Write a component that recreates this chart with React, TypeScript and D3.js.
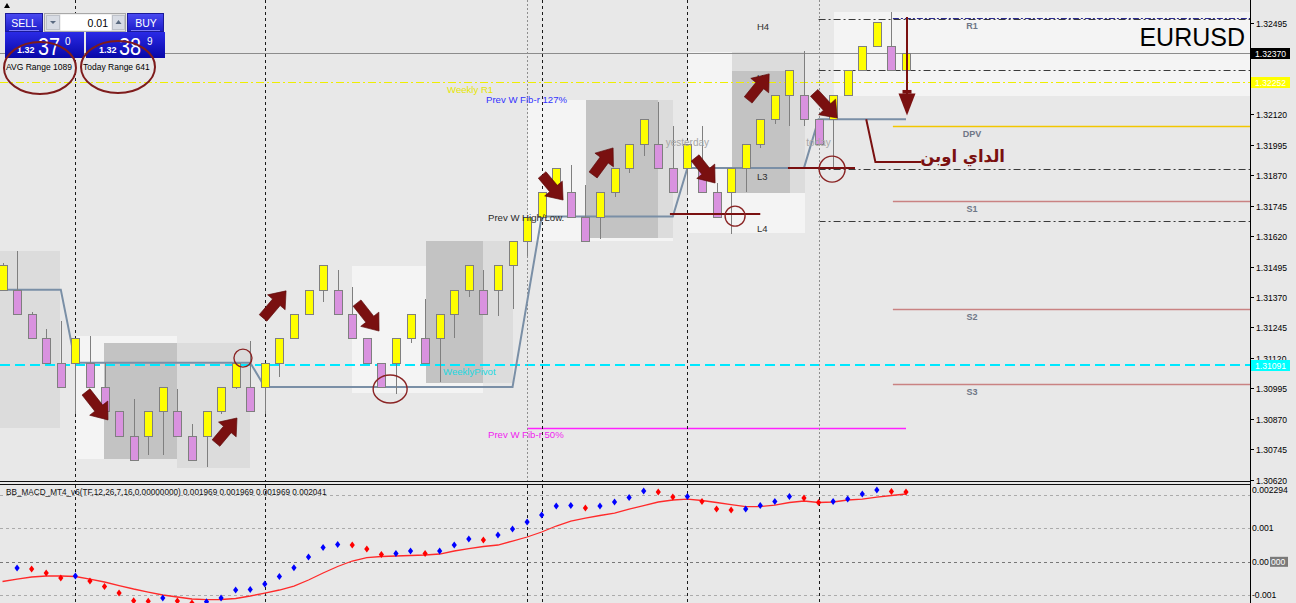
import React from "react";
import * as d3 from "d3";

// ---------------- DATA ----------------
const opens = [
  1.3140, 1.3140, 1.3130, 1.3120, 1.3110, 1.3110, 1.3110, 1.3100, 1.3090, 1.3080,
  1.3080, 1.3090, 1.3090, 1.3080, 1.3080, 1.3090, 1.3100, 1.3100, 1.3100, 1.3110,
  1.3120, 1.3130, 1.3140, 1.3140, 1.3130, 1.3120, 1.3110, 1.3110, 1.3120, 1.3120,
  1.3120, 1.3130, 1.3140, 1.3140, 1.3140, 1.3150, 1.3160, 1.3170, 1.3180, 1.3180,
  1.3170, 1.3170, 1.3180, 1.3190, 1.3200, 1.3200, 1.3190, 1.3190, 1.3190, 1.3180,
  1.3180, 1.3190, 1.3200, 1.3210, 1.3220, 1.3220, 1.3210, 1.3210, 1.3220, 1.3230,
  1.3240, 1.3240, 1.3230,
];
const highs = [
  1.3151, 1.3156, 1.3131, 1.3124, 1.3127, 1.3120, 1.3121, 1.3110, 1.3090, 1.3095,
  1.3090, 1.3100, 1.3099, 1.3085, 1.3090, 1.3100, 1.3110, 1.3119, 1.3110, 1.3120,
  1.3130, 1.3140, 1.3150, 1.3148, 1.3141, 1.3120, 1.3110, 1.3120, 1.3130, 1.3136,
  1.3130, 1.3140, 1.3150, 1.3148, 1.3150, 1.3160, 1.3170, 1.3180, 1.3190, 1.3191,
  1.3183, 1.3180, 1.3190, 1.3200, 1.3210, 1.3217, 1.3207, 1.3200, 1.3207, 1.3184,
  1.3190, 1.3200, 1.3210, 1.3220, 1.3230, 1.3238, 1.3210, 1.3220, 1.3230, 1.3240,
  1.3250, 1.3254, 1.3237,
];
const lows = [
  1.3140, 1.3130, 1.3120, 1.3110, 1.3100, 1.3089, 1.3100, 1.3090, 1.3080, 1.3070,
  1.3072, 1.3072, 1.3080, 1.3070, 1.3067, 1.3089, 1.3099, 1.3090, 1.3089, 1.3104,
  1.3120, 1.3130, 1.3135, 1.3130, 1.3120, 1.3110, 1.3100, 1.3097, 1.3118, 1.3110,
  1.3102, 1.3120, 1.3137, 1.3130, 1.3129, 1.3132, 1.3154, 1.3170, 1.3180, 1.3170,
  1.3160, 1.3161, 1.3178, 1.3188, 1.3195, 1.3190, 1.3180, 1.3179, 1.3180, 1.3170,
  1.3163, 1.3180, 1.3198, 1.3208, 1.3207, 1.3207, 1.3200, 1.3190, 1.3220, 1.3230,
  1.3240, 1.3230, 1.3230,
];
const closes = [
  1.3150, 1.3130, 1.3120, 1.3110, 1.3100, 1.3120, 1.3100, 1.3090, 1.3080, 1.3070,
  1.3090, 1.3100, 1.3080, 1.3070, 1.3090, 1.3100, 1.3110, 1.3090, 1.3110, 1.3120,
  1.3130, 1.3140, 1.3150, 1.3130, 1.3120, 1.3110, 1.3100, 1.3120, 1.3130, 1.3110,
  1.3130, 1.3140, 1.3150, 1.3130, 1.3150, 1.3160, 1.3170, 1.3180, 1.3190, 1.3170,
  1.3160, 1.3180, 1.3190, 1.3200, 1.3210, 1.3190, 1.3180, 1.3200, 1.3180, 1.3170,
  1.3190, 1.3200, 1.3210, 1.3220, 1.3230, 1.3210, 1.3200, 1.3220, 1.3230, 1.3240,
  1.3250, 1.3230, 1.3237,
];

// BB MACD (units of 0.001)
const macdDots: (number | null)[] = [
  null, -0.185, -0.215, -0.334, -0.484, -0.424, -0.573, -0.738, -0.932, -1.165,
  -1.175, -1.081, -1.171, -1.230, -1.192, -1.081, -0.842, -0.830, -0.663, -0.439,
  -0.176, 0.143, 0.427, 0.517, 0.502, 0.382, 0.215, 0.245, 0.323, 0.245,
  0.323, 0.502, 0.681, 0.651, 0.800, 0.980, 1.189, 1.398, 1.667, 1.681,
  1.607, 1.666, 1.786, 1.920, 2.114, 2.084, 1.935, 1.950, 1.801, 1.575,
  1.545, 1.575, 1.681, 1.801, 1.950, 1.905, 1.771, 1.801, 1.875, 2.025,
  2.144, 2.099, 2.084,
];
const macdSignal = [
  -0.588, -0.514, -0.454, -0.424, -0.424, -0.439, -0.514, -0.603, -0.708, -0.812,
  -0.902, -0.991, -1.051, -1.111, -1.129, -1.126, -1.096, -1.021, -0.932, -0.842,
  -0.723, -0.544, -0.334, -0.140, 0.024, 0.125, 0.158, 0.173, 0.188, 0.203,
  0.233, 0.323, 0.394, 0.457, 0.502, 0.621, 0.741, 0.890, 1.069, 1.218,
  1.308, 1.383, 1.457, 1.577, 1.681, 1.786, 1.846, 1.875, 1.831, 1.771,
  1.711, 1.651, 1.651, 1.696, 1.771, 1.816, 1.771, 1.786, 1.846, 1.875,
  1.935, 1.980, 2.025,
];

const priceTicks = d3.range(16).map((k) => 1.3062 + k * 0.00125);
const macdGrid = [2, 1, 0, -1];
const macdTickLabels = [
  { v: 1, label: "0.001" },
  { v: -1, label: "-0.001" },
];
const macdTopLabel = "0.002294";
const macdTitle =
  "BB_MACD_MT4_v6(TF,12,26,7,16,0.00000000) 0.001969 0.001969 0.001969 0.002041";

// daily open step line [bar index, price]
const dayOpenSteps: [number, number][] = [
  [-0.2, 1.314], [4, 1.314], [5, 1.311], [17, 1.311], [18, 1.31], [35, 1.31],
  [37, 1.317], [46, 1.317], [47, 1.319], [55, 1.319], [56, 1.321], [62, 1.321],
];

// session range boxes [startIndex, endIndex, high, low, shade]
const rangeBoxes: [number, number, number, number, string][] = [
  [-0.3, 3.95, 1.31559, 1.30832, "mid"],
  [5.05, 11.98, 1.3121, 1.30705, "light"],
  [6.97, 11.98, 1.31181, 1.30705, "dark"],
  [11.98, 16.99, 1.31181, 1.30668, "mid"],
  [23.99, 32.98, 1.31497, 1.30976, "light"],
  [29.07, 35.04, 1.316, 1.31017, "mid"],
  [29.07, 32.98, 1.316, 1.31017, "dark"],
  [36.07, 46.02, 1.32179, 1.316, "light"],
  [40.05, 44.99, 1.32179, 1.31612, "dark"],
  [44.99, 46.02, 1.32179, 1.31612, "mid"],
  [47.05, 55.08, 1.32376, 1.31633, "light"],
  [50.07, 55.08, 1.32376, 1.31797, "mid"],
  [50.07, 54.05, 1.32298, 1.31797, "dark"],
  [57.07, 90, 1.3254, 1.32195, "light"],
];

const separators: [number, boolean][] = [
  [5, false], [18, false], [36, true], [37, false], [47, false], [56, true],
];

const currentPrice = 1.3237;
const weeklyR1 = 1.32252;
const weeklyPivot = 1.31091;
const prevWFib50 = 1.30832;

const pivotLevels = [
  { name: "R1", price: 1.32516 },
  { name: "DPV", price: 1.32072 },
  { name: "S1", price: 1.31764 },
  { name: "S2", price: 1.31321 },
  { name: "S3", price: 1.31013 },
];
const camLevels = [
  { name: "H4", price: 1.32511 },
  { name: "H3", price: 1.32302 },
  { name: "L3", price: 1.31896 },
  { name: "L4", price: 1.31682 },
];

// hand-drawn annotations (bar index / price)
const trendArrows: [number, number, number, number][] = [
  [5.73, 1.3098, 7.24, 1.30865],
  [14.65, 1.3077, 16.09, 1.30873],
  [17.88, 1.31284, 19.46, 1.31395],
  [24.33, 1.31345, 25.84, 1.3123],
  [37.03, 1.31871, 38.47, 1.31768],
  [40.53, 1.31871, 41.9, 1.31982],
  [47.53, 1.31941, 48.9, 1.31838],
  [51.17, 1.32179, 52.61, 1.32286],
  [55.7, 1.32208, 57.28, 1.32105],
];
const markCircles: [number, number, number, number][] = [
  [16.5, 1.31119, 9, 9],
  [26.6, 1.30992, 17, 14],
  [50.27, 1.31702, 10, 10],
  [56.93, 1.31895, 13, 13],
];
const markLines: [number, number, number][] = [
  [45.8, 52.0, 1.31711],
  [53.9, 58.5, 1.319],
];
const dayOpenNote = "الداي اوبن";

const FONT = "'Liberation Sans', Arial, Helvetica, sans-serif";
const SHADE: Record<string, string> = { light: "#F4F4F4", mid: "#DCDCDC", dark: "#C3C3C3" };

export default function App() {
  const AX = 1250;
  const x = d3.scaleLinear().domain([0, 62]).range([2.5, 906]);
  const y = d3.scaleLinear().domain([1.3062, 1.32495]).range([479.6, 23]);
  const ym = d3.scaleLinear().domain([-1.23, 2.294]).range([603, 485]);
  const cy = (p: number) => Math.round(y(p)) + 0.5;
  const cx = (i: number) => Math.round(x(i)) + 0.5;

  const stepLine = d3
    .line<[number, number]>()
    .x((d) => x(d[0]))
    .y((d) => y(d[1]))(dayOpenSteps);

  const signalLine = d3
    .line<number>()
    .x((_, i) => x(i))
    .y((d) => ym(d))(macdSignal);

  const arrowPath = (x1: number, y1: number, x2: number, y2: number) => {
    const L = Math.hypot(x2 - x1, y2 - y1);
    const a = (Math.atan2(y2 - y1, x2 - x1) * 180) / Math.PI;
    const hl = 15;
    const d = `M0,-5 L${L - hl},-5 L${L - hl},-11.5 L${L},0 L${L - hl},11.5 L${L - hl},5 L0,5 Z`;
    return { d, t: `translate(${x1},${y1}) rotate(${a})` };
  };

  const dark = "#7A1010";
  const boxes = [
    { v: currentPrice, bg: "#000000", fg: "#FFFFFF" },
    { v: weeklyR1, bg: "#FFFF00", fg: "#FFFFFF" },
    { v: weeklyPivot, bg: "#00FFFF", fg: "#FFFFFF" },
  ];
  // tick labels fully hidden behind a price box are not drawn
  const visibleTicks = priceTicks.filter(
    (v) => !boxes.some((b) => Math.abs(y(b.v) - y(v)) < 4)
  );

  return (
    <svg
      width={1296}
      height={603}
      style={{ position: "fixed", left: 0, top: 0, display: "block" }}
      fontFamily={FONT}
    >
      <defs>
        <clipPath id="mainClip">
          <rect x={0} y={0} width={AX} height={481} />
        </clipPath>
        <clipPath id="macdClip">
          <rect x={0} y={485} width={AX} height={118} />
        </clipPath>
        <linearGradient id="btnGrad" x1="0" y1="0" x2="0" y2="1">
          <stop offset="0" stopColor="#4A4AF2" />
          <stop offset="1" stopColor="#1C1CC8" />
        </linearGradient>
        <linearGradient id="priceGrad" x1="0" y1="0" x2="0" y2="1">
          <stop offset="0" stopColor="#2A2AE6" />
          <stop offset="1" stopColor="#0808A8" />
        </linearGradient>
      </defs>
      <rect x={0} y={0} width={1296} height={603} fill="#E8E8E8" />

      {/* ================= MAIN PANE ================= */}
      <g clipPath="url(#mainClip)">
        {rangeBoxes.map(([i0, i1, hi, lo, s], k) => (
          <rect
            key={"bx" + k}
            x={Math.round(x(i0))}
            y={Math.round(y(hi))}
            width={Math.round(x(i1)) - Math.round(x(i0))}
            height={Math.round(y(lo)) - Math.round(y(hi))}
            fill={SHADE[s]}
          />
        ))}

        {/* weekly levels */}
        <line x1={0} x2={AX} y1={cy(weeklyR1)} y2={cy(weeklyR1)} stroke="#EEEE00" strokeDasharray="8,3,2,3" />
        <line x1={0} x2={AX} y1={Math.round(y(weeklyPivot))} y2={Math.round(y(weeklyPivot))} stroke="#00E8FF" strokeWidth={2} strokeDasharray="10,5" />
        <line x1={x(36)} x2={x(62)} y1={cy(prevWFib50)} y2={cy(prevWFib50)} stroke="#FF22FF" strokeWidth={1.5} />
        <line x1={0} x2={AX} y1={cy(currentPrice)} y2={cy(currentPrice)} stroke="#8C8C8C" />

        {/* camarilla dash-dot */}
        {camLevels.map((c) => (
          <line key={c.name} x1={x(56)} x2={AX} y1={cy(c.price)} y2={cy(c.price)} stroke="#3A3A3A" strokeDasharray="7,3,2,3" />
        ))}
        {/* daily pivots */}
        {pivotLevels.map((p) => (
          <line
            key={p.name}
            x1={x(61.1)}
            x2={AX}
            y1={cy(p.price)}
            y2={cy(p.price)}
            stroke={p.name === "R1" ? "#2B2B90" : p.name === "DPV" ? "#F2C600" : "#C98282"}
            strokeWidth={p.name === "R1" ? 1 : 1.5}
            strokeDasharray={p.name === "R1" ? "6,2,2,2" : undefined}
          />
        ))}

        {/* period separators */}
        {separators.map(([i, g], k) => (
          <line
            key={"sp" + k}
            x1={cx(i)}
            x2={cx(i)}
            y1={0}
            y2={481}
            stroke={g ? "#8E8E8E" : "#1A1A1A"}
            strokeDasharray={g ? "2,2" : "3,3"}
          />
        ))}

        {/* day open step line */}
        <path d={stepLine || ""} fill="none" stroke="#7A8FA6" strokeWidth={2} />

        {/* candles */}
        {opens.map((o, i) => {
          const c = closes[i];
          const xc = Math.round(x(i));
          const top = Math.round(y(Math.max(o, c)));
          const bot = Math.round(y(Math.min(o, c)));
          return (
            <g key={"c" + i}>
              <line x1={xc + 0.5} x2={xc + 0.5} y1={Math.round(y(highs[i]))} y2={Math.round(y(lows[i]))} stroke="#7F7F7F" />
              <rect
                x={xc - 3.5}
                y={top + 0.5}
                width={8}
                height={Math.max(1, bot - top)}
                fill={c >= o ? "#FFFF00" : "#D992DF"}
                stroke="#7F7F7F"
              />
            </g>
          );
        })}

        {/* chart text labels */}
        <text x={447} y={93} fontSize={9.6} fill="#E6E600">Weekly R1</text>
        <text x={486} y={103} fontSize={9.6} fill="#3333FF">Prev W Fib-r 127%</text>
        <text x={488} y={221} fontSize={9.6} fill="#2A2A2A">Prev W High/Low.</text>
        <text x={443} y={375} fontSize={9.6} fill="#22D8E0">WeeklyPivot</text>
        <text x={488} y={438} fontSize={9.6} fill="#F022F0">Prev W Fib-r 50%</text>
        <text x={x(47)} y={146} fontSize={10} fill="#A6A6A6" textAnchor="middle">yesterday</text>
        <text x={x(56)} y={146} fontSize={10} fill="#A6A6A6" textAnchor="middle">today</text>
        {camLevels.map((c) => (
          <text key={"t" + c.name} x={757} y={cy(c.price) + 10} fontSize={9.5} fill="#2E2E2E">
            {c.name}
          </text>
        ))}
        {pivotLevels.map((p) => (
          <text key={"pt" + p.name} x={972} y={cy(p.price) + 10} fontSize={9} fontWeight="bold" fill="#6E7686" textAnchor="middle">
            {p.name}
          </text>
        ))}
        <text x={1245} y={46} fontSize={25} fill="#000" textAnchor="end">EURUSD</text>

        {/* hand-drawn annotations */}
        {markLines.map(([i0, i1, p], k) => (
          <line key={"ml" + k} x1={x(i0)} x2={x(i1)} y1={y(p)} y2={y(p)} stroke={dark} strokeWidth={2} />
        ))}
        {markCircles.map(([i, p, rx, ry], k) => (
          <ellipse key={"mc" + k} cx={x(i)} cy={y(p)} rx={rx} ry={ry} fill="none" stroke="#8A2424" strokeWidth={1.4} />
        ))}
        {trendArrows.map(([i1, p1, i2, p2], k) => {
          const a = arrowPath(x(i1), y(p1), x(i2), y(p2));
          return <path key={"ar" + k} d={a.d} transform={a.t} fill={dark} stroke="#5A0808" strokeWidth={0.6} />;
        })}
        {/* down arrow to day open */}
        <line x1={x(62) + 1} x2={x(62) + 1} y1={y(1.3252)} y2={y(1.3220)} stroke={dark} strokeWidth={2} />
        <path
          d={`M${x(62) - 7.5},${y(1.32205)} L${x(62) + 9.5},${y(1.32205)} L${x(62) + 1},${y(1.32115)} Z`}
          fill={dark}
        />
        <rect x={x(62) - 3.5} y={y(1.3222)} width={9} height={y(1.32205) - y(1.3222)} fill={dark} />
        {/* label connector */}
        <path
          d={`M${x(59.27)},${y(1.321)} L${x(59.9)},${y(1.31924)} L${x(63.05)},${y(1.31924)}`}
          fill="none"
          stroke={dark}
          strokeWidth={2}
        />
        <text x={1005} y={162} fontSize={16.5} fontWeight="bold" fill={dark} textAnchor="end" fontFamily="'DejaVu Sans', sans-serif">
          {dayOpenNote}
        </text>
      </g>

      {/* ================= PANE SEPARATOR ================= */}
      <line x1={0} x2={AX} y1={481.5} y2={481.5} stroke="#111" />
      <line x1={0} x2={AX} y1={484.5} y2={484.5} stroke="#111" />

      {/* ================= MACD PANE ================= */}
      <g clipPath="url(#macdClip)">
        {macdGrid.map((v) => (
          <line
            key={"g" + v}
            x1={0}
            x2={AX}
            y1={Math.round(ym(v)) + 0.5}
            y2={Math.round(ym(v)) + 0.5}
            stroke={v === 0 ? "#777" : "#ABABAB"}
            strokeDasharray="3,3"
          />
        ))}
        {separators.map(([i], k) => (
          <line key={"msp" + k} x1={cx(i)} x2={cx(i)} y1={485} y2={603} stroke="#1A1A1A" strokeDasharray="3,3" />
        ))}
        <path d={signalLine || ""} fill="none" stroke="#FF2A2A" strokeWidth={1.3} />
        {macdDots.map((v, i) => {
          if (v === null) return null;
          const prev = macdDots[i - 1];
          const up = prev === null || prev === undefined || v > prev;
          const px = x(i);
          const py = ym(v);
          return (
            <path
              key={"d" + i}
              d={`M${px},${py - 3.5} L${px + 2.6},${py} L${px},${py + 3.5} L${px - 2.6},${py} Z`}
              fill={up ? "#0000FF" : "#FF0000"}
            />
          );
        })}
        <text x={6} y={495} fontSize={8.2} fill="#111">{macdTitle}</text>
      </g>

      {/* ================= RIGHT AXIS ================= */}
      <line x1={AX + 0.5} x2={AX + 0.5} y1={0} y2={603} stroke="#000" />
      {priceTicks.map((v) => (
        <line key={"tk" + v} x1={AX} x2={AX + 4} y1={cy(v)} y2={cy(v)} stroke="#000" />
      ))}
      {visibleTicks.map((v) => (
        <text key={"pt" + v} x={AX + 6} y={cy(v) + 3} fontSize={8.6} fill="#000">
          {v.toFixed(5)}
        </text>
      ))}
      {boxes.map((b) => (
        <g key={"bx" + b.v}>
          <rect x={AX + 1} y={Math.round(y(b.v)) - 5} width={39} height={11} fill={b.bg} />
          <text x={AX + 5} y={Math.round(y(b.v)) + 4} fontSize={8.6} fill={b.fg}>
            {b.v.toFixed(5)}
          </text>
        </g>
      ))}
      <text x={AX + 2} y={ym(2.294) + 8} fontSize={8.6} fill="#000">{macdTopLabel}</text>
      {macdTickLabels.map((t) => (
        <text key={t.label} x={AX + 2} y={ym(t.v) + 3} fontSize={8.6} fill="#000">
          {t.label}
        </text>
      ))}
      <text x={AX + 2} y={ym(0) + 3} fontSize={8.6} fill="#000">0.00</text>
      <rect x={AX + 20} y={ym(0) - 5} width={18} height={10} fill="#7A7A7A" />
      <text x={AX + 21} y={ym(0) + 3} fontSize={8.6} fill="#FFFFFF">000</text>

      {/* ================= TRADE PANEL ================= */}
      <g>
        <polygon points="4,8 7,3 10,8" fill="#000" />
        <rect x={5.5} y={13.5} width={37} height={18} fill="url(#btnGrad)" stroke="#1A1A9A" />
        <text x={24} y={27} fill="#fff" fontSize={10.5} textAnchor="middle">SELL</text>
        <line x1={9} x2={39} y1={30.5} y2={30.5} stroke="#7A7AF6" />
        <rect x={44.5} y={13.5} width={81} height={18} fill="#E2E2E2" stroke="#A8A8A8" />
        <rect x={46.5} y={15.5} width={13} height={14} fill="#D8DCE4" stroke="#BEC2CA" />
        <path d="M50,21 L56,21 L53,24 Z" fill="#5A6A80" />
        <rect x={60.5} y={14.5} width={51} height={16} fill="#FFFFFF" />
        <text x={108} y={27} fontSize={10.5} textAnchor="end" fill="#000">0.01</text>
        <rect x={112.5} y={15.5} width={12} height={14} fill="#D8DCE4" stroke="#BEC2CA" />
        <path d="M115.5,24 L121.5,24 L118.5,20 Z" fill="#5A6A80" />
        <rect x={127.5} y={13.5} width={36} height={18} fill="url(#btnGrad)" stroke="#1A1A9A" />
        <text x={146} y={27} fill="#fff" fontSize={10.5} textAnchor="middle">BUY</text>
        <line x1={131} x2={160} y1={30.5} y2={30.5} stroke="#7A7AF6" />

        <rect x={5} y={32} width={79} height={26} fill="url(#priceGrad)" />
        <rect x={86} y={32} width={79} height={26} fill="url(#priceGrad)" />
        <text x={17} y={53} fontSize={9} fontWeight="bold" fill="#fff">1.32</text>
        <text x={38} y={55} fontSize={24} fill="#fff" textLength={22} lengthAdjust="spacingAndGlyphs">37</text>
        <text x={65} y={45} fontSize={10} fill="#fff">0</text>
        <text x={99} y={53} fontSize={9} fontWeight="bold" fill="#fff">1.32</text>
        <text x={119} y={55} fontSize={24} fill="#fff" textLength={22} lengthAdjust="spacingAndGlyphs">38</text>
        <text x={147} y={45} fontSize={10} fill="#fff">9</text>

        <text x={6} y={70} fontSize={8.5} fill="#000">AVG Range 1089</text>
        <text x={83} y={70} fontSize={8.5} fill="#000">Today Range 641</text>
        <ellipse cx={40} cy={68} rx={36} ry={26} fill="none" stroke="#7E1C1C" strokeWidth={2} />
        <ellipse cx={118} cy={67} rx={37} ry={26} fill="none" stroke="#7E1C1C" strokeWidth={2} />
      </g>
    </svg>
  );
}
